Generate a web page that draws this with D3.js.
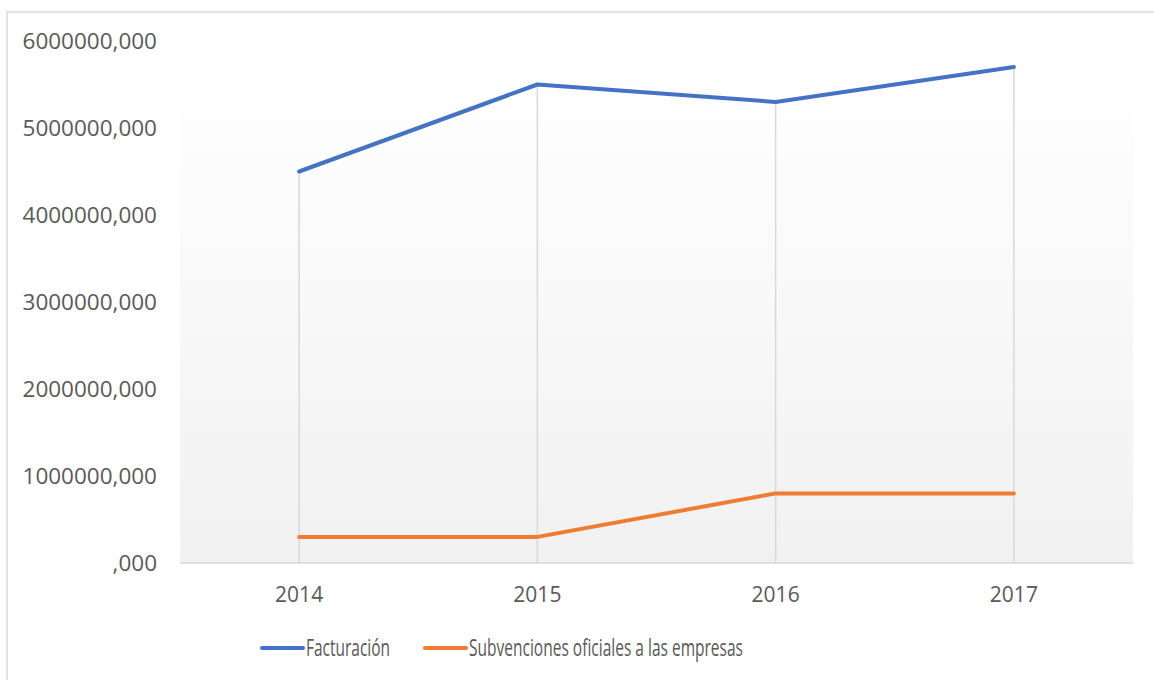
<!DOCTYPE html>
<html>
<head>
<meta charset="utf-8">
<script src="https://cdn.jsdelivr.net/npm/d3@7"></script>
<style>
  body { margin: 0; background: #fff; }
  text { font-family: "Open Sans", sans-serif; fill: #595959; }
</style>
</head>
<body>
<svg id="chart" width="1154" height="680"></svg>
<script>
var years = ["2014", "2015", "2016", "2017"];
var facturacion = [4500000, 5500000, 5300000, 5700000];
var subvenciones = [300000, 300000, 800000, 800000];
var seriesNames = ["Facturación", "Subvenciones oficiales a las empresas"];
var seriesColors = ["#4472C4", "#ED7D31"];
var yTicks = [0, 1000000, 2000000, 3000000, 4000000, 5000000, 6000000];

var svg = d3.select("#chart");
var margin = {left: 180, right: 21, top: 41, bottom: 117};
var width = 1154, height = 680;

// chart border, runs off right and bottom like the source
svg.append("rect")
    .attr("x", 7).attr("y", 12)
    .attr("width", 1160).attr("height", 690)
    .style("fill", "none")
    .style("stroke", "#d9d9d9")
    .style("stroke-width", 1.5);

var x = d3.scaleBand()
    .domain(years)
    .range([margin.left, width - margin.right]);

var y = d3.scaleLinear()
    .domain([0, 6000000])
    .range([height - margin.bottom, margin.top]);

var defs = svg.append("defs");
var grad = defs.append("linearGradient")
    .attr("id", "plotBg")
    .attr("x1", "0%").attr("y1", "0%")
    .attr("x2", "0%").attr("y2", "100%");
grad.append("stop").attr("offset", "0%").style("stop-color", "#fefefe");
grad.append("stop").attr("offset", "100%").style("stop-color", "#f1f1f1");

svg.append("rect")
    .attr("x", margin.left)
    .attr("y", 108)
    .attr("width", width - margin.right - margin.left)
    .attr("height", y(0) - 108)
    .style("fill", "url(#plotBg)");

// drop lines from highest point to axis
svg.append("g").selectAll("line")
    .data(years)
    .enter()
    .append("line")
    .attr("x1", function (d) { return x(d) + x.bandwidth() / 2; })
    .attr("x2", function (d) { return x(d) + x.bandwidth() / 2; })
    .attr("y1", function (d, i) { return y(Math.max(facturacion[i], subvenciones[i])); })
    .attr("y2", y(0))
    .style("stroke", "#d9d9d9")
    .style("stroke-width", 1.5);

// x axis
svg.append("line")
    .attr("x1", margin.left).attr("x2", width - margin.right)
    .attr("y1", y(0)).attr("y2", y(0))
    .style("stroke", "#d9d9d9")
    .style("stroke-width", 1.5);

svg.append("g").selectAll("text")
    .data(years)
    .enter()
    .append("text")
    .attr("x", function (d) { return x(d) + x.bandwidth() / 2; })
    .attr("y", y(0) + 39)
    .attr("text-anchor", "middle")
    .style("font-size", "21px")
    .text(function (d) { return d; });

// y tick labels
svg.append("g").selectAll("text")
    .data(yTicks)
    .enter()
    .append("text")
    .attr("x", 157)
    .attr("y", function (d) { return y(d); })
    .attr("dy", "0.36em")
    .attr("text-anchor", "end")
    .style("font-size", "22.5px")
    .text(function (d) { return d === 0 ? ",000" : d + ",000"; });

var line = d3.line()
    .x(function (d, i) { return x(years[i]) + x.bandwidth() / 2; })
    .y(function (d) { return y(d); });

[facturacion, subvenciones].forEach(function (vals, k) {
    svg.append("path")
        .datum(vals)
        .attr("d", line)
        .style("fill", "none")
        .style("stroke", seriesColors[k])
        .style("stroke-width", 4)
        .style("stroke-linecap", "round")
        .style("stroke-linejoin", "round");
});

// legend (source font is narrower, squeeze to its width)
var legendX = [262, 425];
var legendLen = [84, 274];
var legend = svg.append("g");
seriesNames.forEach(function (name, k) {
    legend.append("line")
        .attr("x1", legendX[k]).attr("x2", legendX[k] + 41)
        .attr("y1", 648).attr("y2", 648)
        .style("stroke", seriesColors[k])
        .style("stroke-width", 4)
        .style("stroke-linecap", "round");
    legend.append("text")
        .attr("x", legendX[k] + 44)
        .attr("y", 648)
        .attr("dy", "0.36em")
        .attr("textLength", legendLen[k])
        .attr("lengthAdjust", "spacingAndGlyphs")
        .style("font-size", "23px")
        .text(name);
});
</script>
</body>
</html>
